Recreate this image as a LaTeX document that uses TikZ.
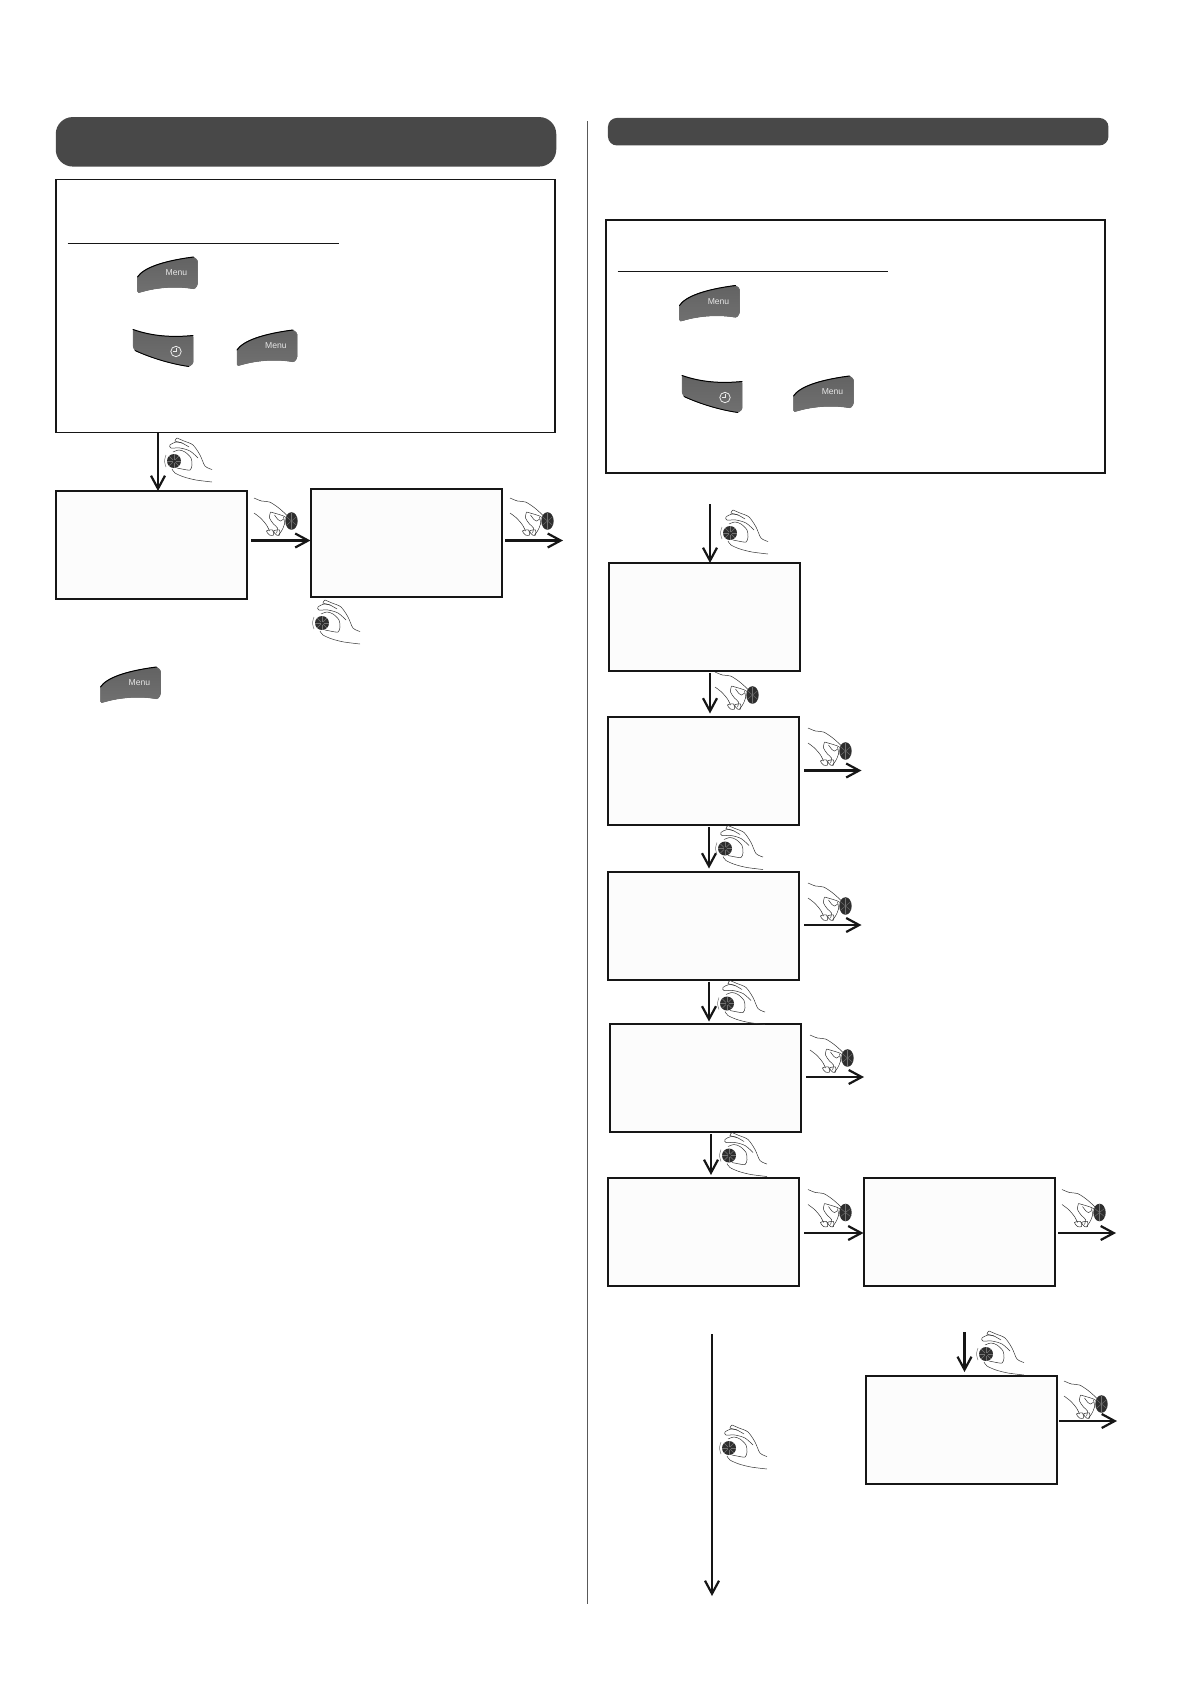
\documentclass[tikz,border=0pt]{standalone}
\usepackage{fontspec}
\setmainfont{Liberation Sans}
\usetikzlibrary{arrows.meta,calc}
\definecolor{hdr}{HTML}{484848}
\definecolor{btn}{HTML}{707070}
\definecolor{ink}{HTML}{161616}
\definecolor{knob}{HTML}{2E2E2E}
\tikzset{
  screen/.style={draw=ink,fill=white!99!black,line width=2pt,minimum width=191pt,minimum height=108pt,outer sep=0pt,inner sep=0pt},
  infobox/.style={draw=ink,fill=white,line width=1.6pt,minimum width=499.5pt,minimum height=253pt,outer sep=0pt,inner sep=0pt},
  banner/.style={fill=hdr,rounded corners=#1,outer sep=0pt,inner sep=0pt},
  flow/.style={line width=2.2pt,ink,-{Straight Barb[length=13pt,width=14pt,line width=2.2pt]}},
  rule/.style={line width=1pt,ink},
  skin/.style={line width=.5pt,black!80,smooth},
  holdhand/.pic={
    \draw[skin] plot coordinates {(3,-23)(10,-20)(19,-16)(26,-6)(31,5)(38,8.5)};
    \draw[skin] plot coordinates {(3,-23)(1,-20)(8,-18)(15,-14)};
    \draw[skin] plot coordinates {(8,-18)(2,-19)(-4,-16)(-3,-13)(6,-13)(16,-10)(24,-3)};
    \draw[skin] plot coordinates {(-1,-9)(5,-11)(11,-9)(17,-3)(18,4)(16,9)(8,8)(3,7)};
    \draw[skin] plot coordinates {(-2,8)(1,12)(10,16)(22,19)(38,21)};
    \draw[skin,black!55] plot coordinates {(-8,-6)(-9.5,0)(-8,6)};
    \fill[knob] (0,0) circle[radius=7];
    \foreach \a in {0,45,...,315} \draw[black!55,line width=.4pt] (\a:1.5) -- (\a:6.8);
  },
  turnhand/.pic={
    \draw[skin] plot coordinates {(-37.5,-23)(-30,-20)(-22,-19)(-14,-14)(-7,-8)(-2,-3)};
    \draw[skin] plot coordinates {(-37.5,-8)(-31,-3)(-25,4)(-22,10)};
    \draw[skin] plot coordinates {(-21,-9)(-22,-3)(-18,3)(-14,7)(-15,12)};
    \draw[skin] plot coordinates {(-21,-9)(-14,-7)(-8,-5)(-3,-2)};
    \draw[skin] plot coordinates {(-17,-6)(-14,-2)(-11,0)(-8,-2)};
    \draw[skin] plot coordinates {(-8,-4)(-7,3)(-10,10)(-13,14)};
    \draw[skin,smooth cycle] plot coordinates {(-25,10)(-22,14)(-18,14)(-19,9)};
    \draw[skin,smooth cycle] plot coordinates {(-18,10)(-15,14)(-12,14)(-12,9)};
    \fill[knob] (0,0) ellipse[x radius=6.2,y radius=8.8];
    \foreach \a in {30,90,150,210,270,330} \draw[black!55,line width=.4pt] (0,0) -- ({6*cos(\a)},{8.5*sin(\a)});
  },
  menubtn/.pic={
    \filldraw[top color=btn!88!black,bottom color=btn,draw=black!55,line width=.5pt,rounded corners=1.2pt]
      (0,35.5) -- (0,20) .. controls (6,11) and (25,4) .. (56,0) -- (60,3) -- (60,28) -- (57,32)
      .. controls (40,29) and (20,30) .. (2,35.5) -- cycle;
    \draw[black,line width=1pt,line cap=round] (0,20) .. controls (6,11) and (25,4) .. (56,0);
    \node[white!90!black,font=\fontsize{8.6}{9}\selectfont,inner sep=0pt] (-label) at (39,16) {Menu};
  },
  clockbtn/.pic={
    \filldraw[top color=btn!88!black,bottom color=btn,draw=black!55,line width=.5pt,rounded corners=1.2pt]
      (0,0) .. controls (20,7) and (40,8) .. (60,6) -- (60,34) -- (56,37)
      .. controls (35,34) and (15,27) .. (2,21) -- (0,17) -- cycle;
    \draw[black,line width=1pt,line cap=round] (0,0) .. controls (20,7) and (40,8) .. (60,6);
    \draw[black,line width=.9pt,line cap=round] (2,21) .. controls (15,27) and (35,34) .. (56,37);
    \draw[white!92!black,line width=.8pt] (43,22) circle[radius=5.2];
    \draw[white!92!black,line width=.7pt] (43,18.5) -- (43,22) -- (39.5,22);
  }
}
\begin{document}
\begin{tikzpicture}[x=1pt,y=-1pt]
\useasboundingbox (0,0) rectangle (1190,1684);
% left column
\node[banner=17pt,minimum width=500.5pt,minimum height=49.5pt] (hl) at (306,141.8) {};
\node[infobox] (il) at (305.5,306.1) {};
\coordinate (ula) at (67.7,243.8); \coordinate (ulb) at (339.4,243.8);
\draw[rule] (ula) -- (ulb);
\pic (ml1) at (137.5,257) {menubtn};
\pic (cl1) at (133,329.5) {clockbtn};
\pic (ml2) at (237,330) {menubtn};
\node[screen] (a) at (151.4,545) {};
\node[screen] (b) at (406,543) {};
\coordinate (la) at (158,490);
\coordinate (bout) at (563,540.5);
\draw[flow] (il.south -| la) -- (a.north -| la);
\coordinate (ab) at (251,540.5);
\draw[flow] (ab) -- (ab -| b.west);
\coordinate (bo) at (505,540.5);
\draw[flow] (bo) -- (bout);
\pic at (174,461) {holdhand};
\pic at (291.5,521) {turnhand};
\pic at (547.5,521) {turnhand};
\pic at (322,623) {holdhand};
\pic (ml3) at (100.5,667) {menubtn};
% divider
\coordinate (da) at (587.5,121); \coordinate (db) at (587.5,1603.5);
\draw[line width=1.3pt,black!65] (da) -- (db);
% right column
\node[banner=9pt,minimum width=500.5pt,minimum height=27.5pt] (hr) at (858.2,131.7) {};
\node[infobox,minimum width=499pt] (ir) at (855.5,346.3) {};
\coordinate (ura) at (617.5,271.7); \coordinate (urb) at (888,271.7);
\draw[rule] (ura) -- (urb);
\pic (mr1) at (679.5,285.5) {menubtn};
\pic (cr1) at (682,375.5) {clockbtn};
\pic (mr2) at (793.5,376) {menubtn};
\node[screen] (r1) at (704.5,617) {};
\node[screen] (r2) at (703.5,770.5) {};
\node[screen] (r3) at (703.5,925.5) {};
\node[screen] (r4) at (705.5,1077.5) {};
\node[screen] (r5) at (703.5,1232) {};
\node[screen] (r6) at (959,1232) {};
\node[screen] (r7) at (961,1430) {};
% vertical connectors
\coordinate (v0) at (710,504);
\draw[flow] (v0) -- (v0 |- r1.north);
\coordinate (v1) at (710,673);
\draw[flow] (v1) -- ($(v1 |- r2.north)+(0,-3)$);
\coordinate (v2) at (709,827);
\draw[flow] (v2) -- ($(v2 |- r3.north)+(0,-3)$);
\coordinate (v3) at (709,981.5);
\draw[flow] (v3) -- ($(v3 |- r4.north)+(0,-2)$);
\coordinate (v4) at (711,1134);
\draw[flow] (v4) -- ($(v4 |- r5.north)+(0,-3)$);
\coordinate (v5) at (712,1334); \coordinate (v5e) at (712,1596);
\draw[flow] (v5) -- (v5e);
\coordinate (v6) at (964.5,1332);
\draw[flow] (v6) -- ($(v6 |- r7.north)+(0,-4)$);
% horizontal connectors
\coordinate (h2) at (804,770.5); \coordinate (h2e) at (861.5,770.5);
\draw[flow] (h2) -- (h2e);
\coordinate (h3) at (804,925); \coordinate (h3e) at (861.5,925);
\draw[flow] (h3) -- (h3e);
\coordinate (h4) at (806,1077); \coordinate (h4e) at (864,1077);
\draw[flow] (h4) -- (h4e);
\coordinate (h5) at (804,1233);
\draw[flow] (h5) -- (h5 -| r6.west);
\coordinate (h6) at (1058,1233); \coordinate (h6e) at (1116,1233);
\draw[flow] (h6) -- (h6e);
\coordinate (h7) at (1059,1421); \coordinate (h7e) at (1117,1421);
\draw[flow] (h7) -- (h7e);
% hands
\pic at (730,533) {holdhand};
\pic at (752.5,695) {turnhand};
\pic at (725,848.5) {holdhand};
\pic at (845.5,751) {turnhand};
\pic at (727,1003.5) {holdhand};
\pic at (845.5,906) {turnhand};
\pic at (729,1155.5) {holdhand};
\pic at (847.5,1058) {turnhand};
\pic at (845.5,1212.5) {turnhand};
\pic at (1099.5,1212.5) {turnhand};
\pic at (729,1448) {holdhand};
\pic at (986,1354) {holdhand};
\pic at (1101.5,1404) {turnhand};
\end{tikzpicture}
\end{document}
